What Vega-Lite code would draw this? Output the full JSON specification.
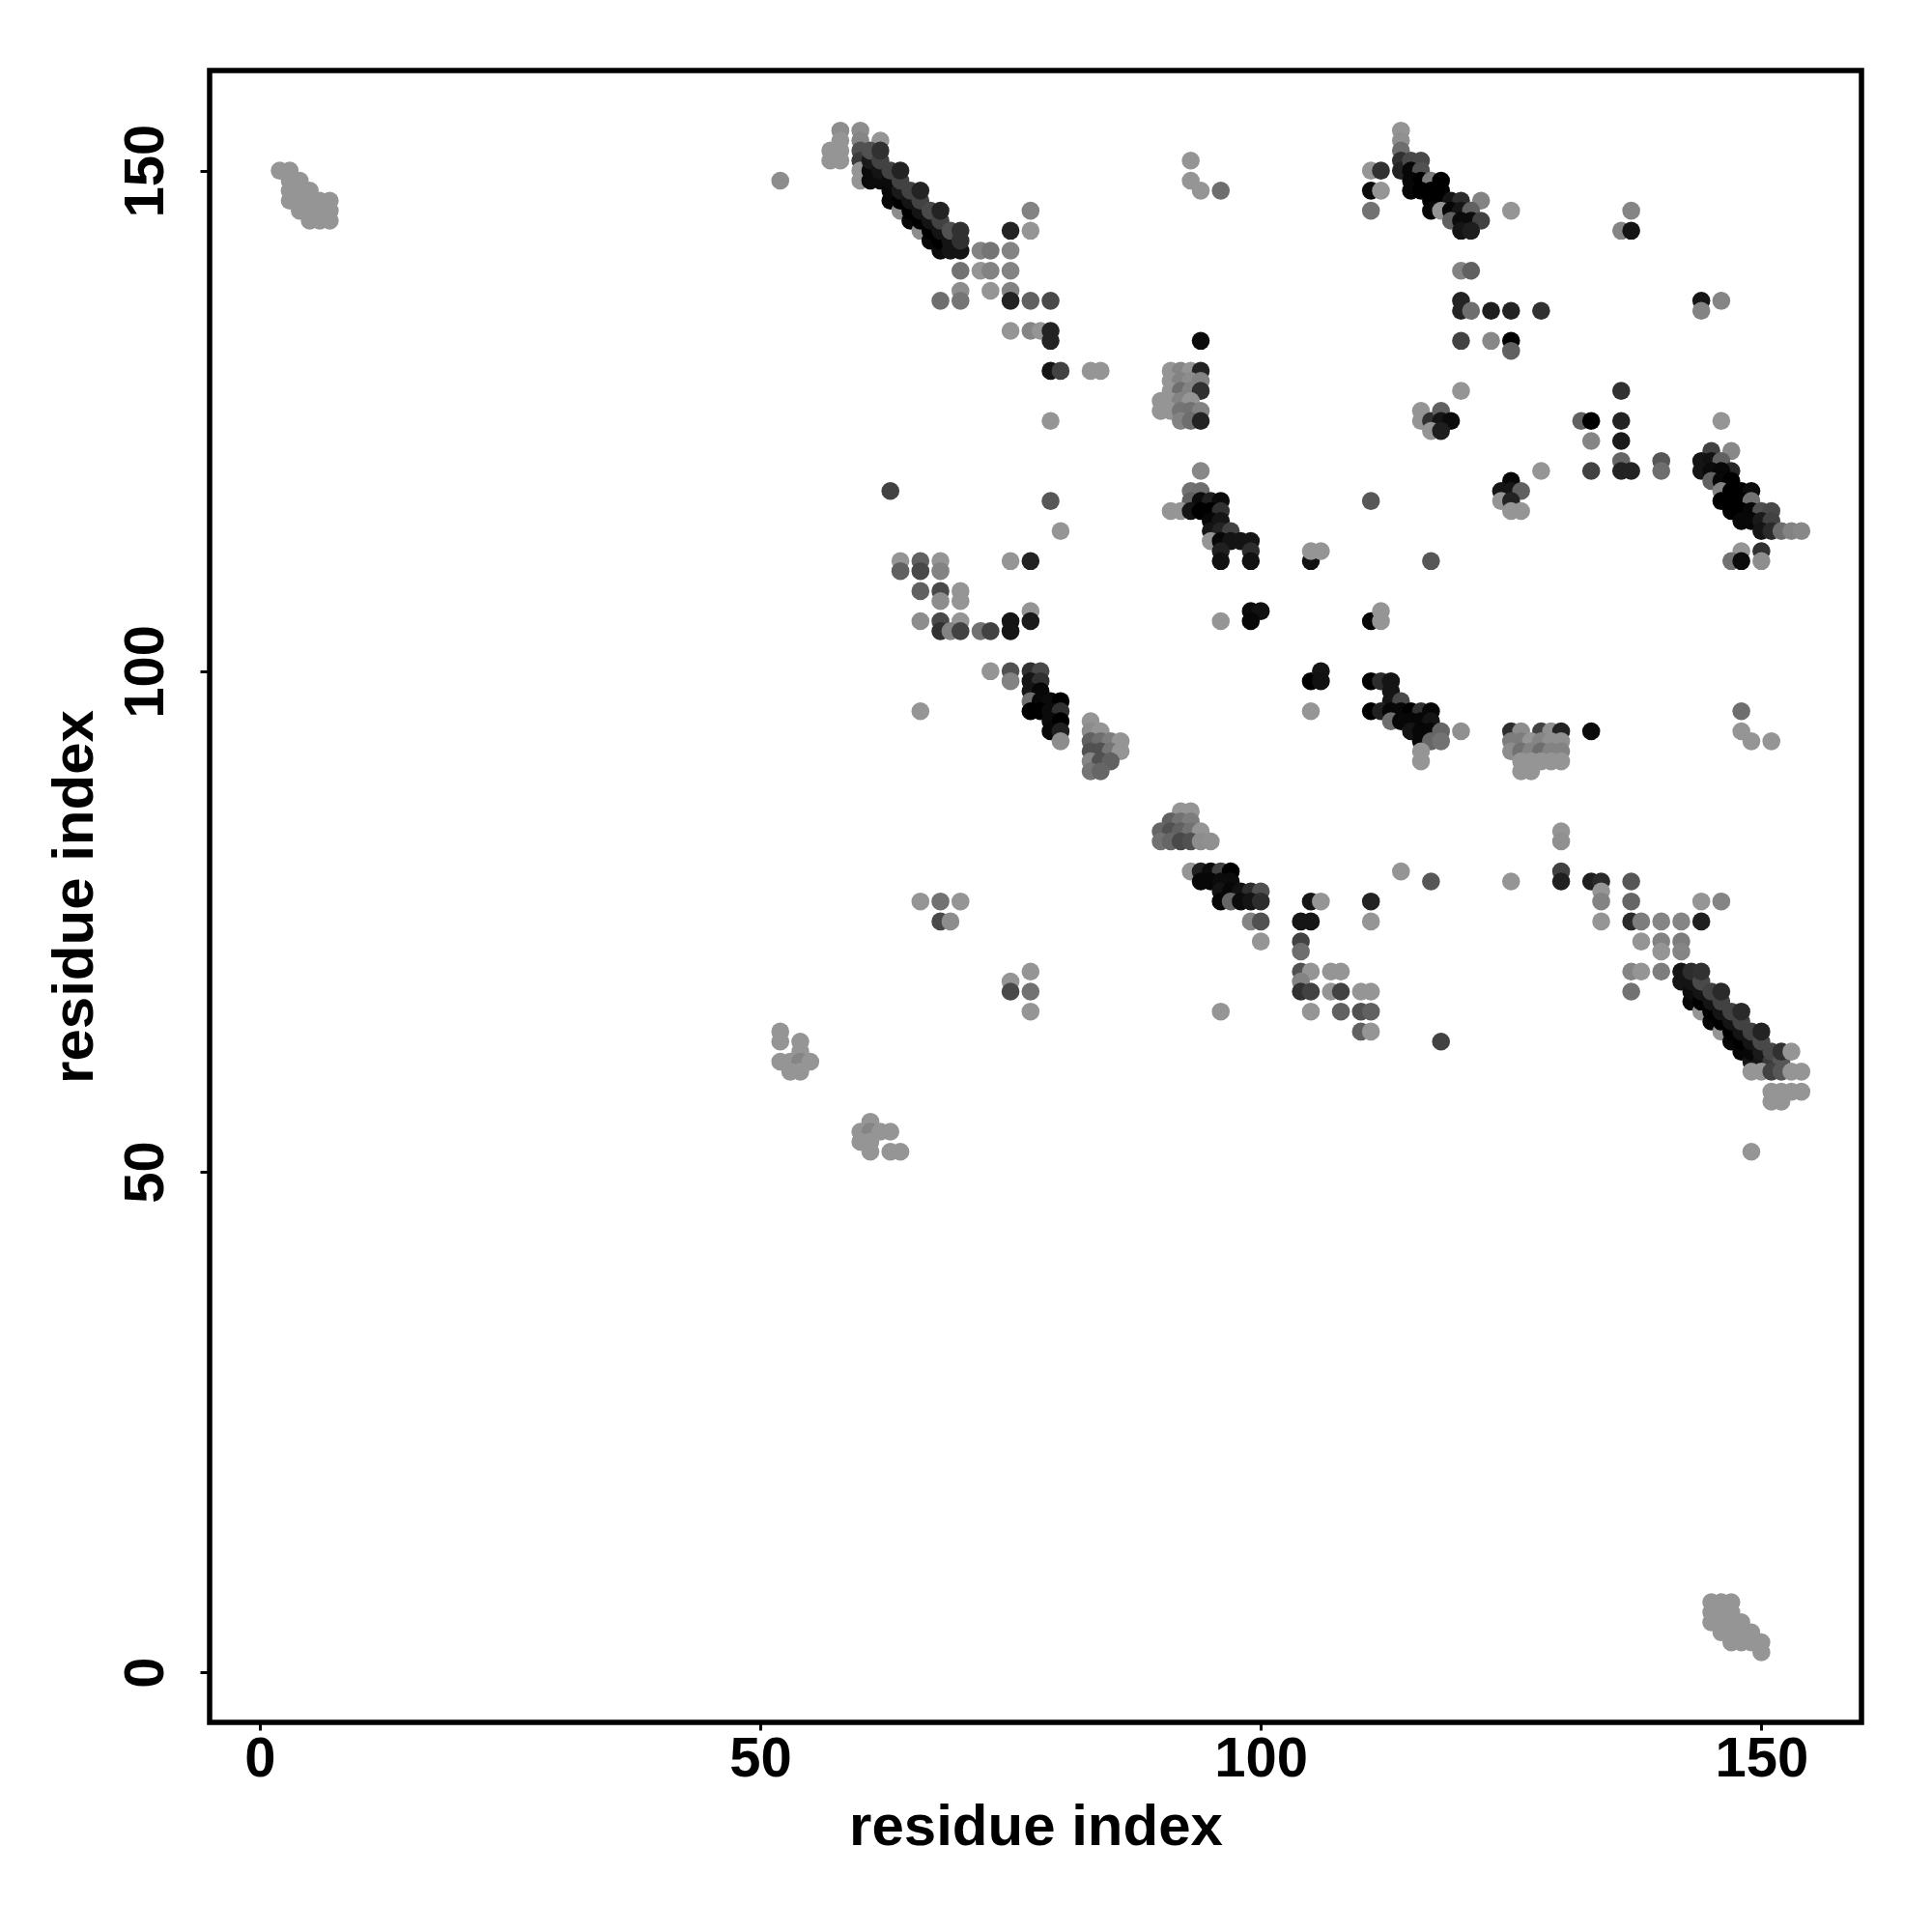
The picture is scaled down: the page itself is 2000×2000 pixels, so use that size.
{"$schema":"https://vega.github.io/schema/vega-lite/v6.json","width":1710,"height":1710,"autosize":{"type":"none"},"padding":{"left":217,"top":73,"right":73,"bottom":217},"background":"white","config":{"view":{"stroke":"#000000","strokeWidth":5.5,"fill":"white"}},"data":{"values":[
{"x":2,"y":150,"p":0},{"x":3,"y":150,"p":0},{"x":3,"y":149,"p":0},{"x":4,"y":149,"p":0},{"x":3,"y":148,"p":0},{"x":4,"y":148,"p":0},{"x":5,"y":148,"p":0},{"x":3,"y":147,"p":0},{"x":4,"y":147,"p":0},{"x":5,"y":147,"p":0},{"x":6,"y":147,"p":0},{"x":7,"y":147,"p":0},{"x":4,"y":146,"p":0},{"x":5,"y":146,"p":0},{"x":6,"y":146,"p":0},{"x":7,"y":146,"p":0},{"x":5,"y":145,"p":0},{"x":6,"y":145,"p":0},{"x":7,"y":145,"p":0},
{"x":145,"y":5,"p":0},{"x":145,"y":6,"p":0},{"x":145,"y":7,"p":0},{"x":146,"y":4,"p":0},{"x":146,"y":5,"p":0},{"x":146,"y":6,"p":0},{"x":146,"y":7,"p":0},{"x":147,"y":3,"p":0},{"x":147,"y":4,"p":0},{"x":147,"y":5,"p":0},{"x":147,"y":6,"p":0},{"x":147,"y":7,"p":0},{"x":148,"y":3,"p":0},{"x":148,"y":4,"p":0},{"x":148,"y":5,"p":0},{"x":149,"y":3,"p":0},{"x":149,"y":4,"p":0},{"x":150,"y":2,"p":0},{"x":150,"y":3,"p":0},
{"x":52,"y":149,"p":0.05},
{"x":58,"y":154,"p":0.05},{"x":60,"y":154,"p":0.05},{"x":62,"y":153,"p":0},{"x":57,"y":152,"p":0},{"x":57,"y":151,"p":0},{"x":58,"y":153,"p":0},{"x":58,"y":152,"p":0},{"x":58,"y":151,"p":0},{"x":60,"y":153,"p":0.1},{"x":60,"y":152,"p":0.44},{"x":60,"y":151,"p":0.6},{"x":60,"y":150,"p":0},{"x":60,"y":149,"p":0},
{"x":61,"y":149,"p":0.95},{"x":63,"y":147,"p":0.97},{"x":64,"y":146,"p":0.05},{"x":65,"y":145,"p":0.97},{"x":66,"y":144,"p":0.05},{"x":67,"y":143,"p":0.97},{"x":68,"y":142,"p":0.95},
{"x":61,"y":150,"p":0.95},{"x":62,"y":149,"p":0.95},{"x":63,"y":148,"p":0.97},{"x":64,"y":147,"p":1},{"x":65,"y":146,"p":1},{"x":66,"y":145,"p":1},{"x":67,"y":144,"p":1},{"x":68,"y":143,"p":1},{"x":69,"y":142,"p":0.9},
{"x":61,"y":151,"p":0.85},{"x":62,"y":150,"p":0.9},{"x":63,"y":149,"p":0.95},{"x":64,"y":148,"p":0.85},{"x":65,"y":147,"p":0.9},{"x":66,"y":146,"p":0.9},{"x":67,"y":145,"p":0.9},{"x":68,"y":144,"p":0.9},{"x":69,"y":143,"p":0.9},{"x":70,"y":142,"p":0.9},
{"x":61,"y":152,"p":0.44},{"x":62,"y":151,"p":0.55},{"x":63,"y":150,"p":0.55},{"x":64,"y":149,"p":0.55},{"x":65,"y":148,"p":0.55},{"x":66,"y":147,"p":0.55},{"x":67,"y":146,"p":0.5},{"x":68,"y":145,"p":0.55},{"x":69,"y":144,"p":0.44},{"x":70,"y":143,"p":0.67},
{"x":62,"y":152,"p":0.67},{"x":64,"y":150,"p":0.78},{"x":66,"y":148,"p":0.78},{"x":68,"y":146,"p":0.78},{"x":70,"y":144,"p":0.67},
{"x":77,"y":146,"p":0.11},{"x":75,"y":144,"p":0.78},{"x":77,"y":144,"p":0},{"x":72,"y":142,"p":0.11},{"x":73,"y":142,"p":0.2},{"x":75,"y":142,"p":0.11},{"x":70,"y":140,"p":0.22},{"x":72,"y":140,"p":0},{"x":73,"y":140,"p":0.11},{"x":75,"y":140,"p":0.11},{"x":70,"y":138,"p":0.05},{"x":73,"y":138,"p":0},{"x":75,"y":138,"p":0.11},{"x":70,"y":137,"p":0.2},{"x":68,"y":137,"p":0.25},{"x":75,"y":137,"p":0.78},{"x":77,"y":137,"p":0.33},{"x":79,"y":137,"p":0.5},
{"x":75,"y":134,"p":0},{"x":77,"y":134,"p":0.1},{"x":78,"y":134,"p":0},{"x":79,"y":134,"p":0.78},{"x":79,"y":133,"p":0.78},{"x":79,"y":130,"p":0.89},{"x":80,"y":130,"p":0.55},{"x":83,"y":130,"p":0},{"x":84,"y":130,"p":0},{"x":79,"y":125,"p":0},{"x":63,"y":118,"p":0.55},{"x":79,"y":117,"p":0.4},{"x":80,"y":114,"p":0},
{"x":93,"y":151,"p":0},{"x":93,"y":149,"p":0},{"x":94,"y":148,"p":0},{"x":96,"y":148,"p":0.25},{"x":94,"y":133,"p":0.95},
{"x":91,"y":130,"p":0},{"x":92,"y":130,"p":0.1},{"x":93,"y":130,"p":0},{"x":94,"y":130,"p":0.78},{"x":91,"y":129,"p":0},{"x":92,"y":129,"p":0.11},{"x":93,"y":129,"p":0.05},{"x":94,"y":129,"p":0.11},{"x":91,"y":128,"p":0},{"x":92,"y":128,"p":0.25},{"x":93,"y":128,"p":0.11},{"x":94,"y":128,"p":0.67},{"x":90,"y":127,"p":0},{"x":91,"y":127,"p":0},{"x":92,"y":127,"p":0.11},{"x":93,"y":127,"p":0},{"x":90,"y":126,"p":0},{"x":91,"y":126,"p":0},{"x":92,"y":126,"p":0.2},{"x":93,"y":126,"p":0.22},{"x":94,"y":126,"p":0.11},{"x":92,"y":125,"p":0.11},{"x":93,"y":125,"p":0.25},{"x":94,"y":125,"p":0.78},
{"x":94,"y":120,"p":0.08},{"x":93,"y":118,"p":0.22},{"x":94,"y":118,"p":0.25},{"x":93,"y":117,"p":0.33},{"x":94,"y":117,"p":0.95},{"x":95,"y":117,"p":0.8},{"x":96,"y":117,"p":0.95},{"x":91,"y":116,"p":0},{"x":92,"y":116,"p":0},{"x":93,"y":116,"p":0.9},{"x":94,"y":116,"p":1},{"x":95,"y":116,"p":1},{"x":96,"y":116,"p":0.67},{"x":95,"y":115,"p":0.97},{"x":96,"y":115,"p":0.89},{"x":95,"y":114,"p":0.89},{"x":96,"y":114,"p":0.78},{"x":97,"y":114,"p":0.55},{"x":95,"y":113,"p":0},{"x":96,"y":113,"p":0.97},{"x":97,"y":113,"p":0.9},{"x":98,"y":113,"p":0.9},{"x":99,"y":113,"p":0.9},{"x":96,"y":112,"p":0.8},{"x":99,"y":112,"p":0.7},{"x":96,"y":111,"p":0.92},{"x":99,"y":111,"p":0.92},
{"x":105,"y":111,"p":0.92},{"x":105,"y":112,"p":0},{"x":106,"y":112,"p":0},{"x":64,"y":111,"p":0},{"x":64,"y":110,"p":0.33},{"x":66,"y":111,"p":0.33},{"x":66,"y":110,"p":0.5},{"x":68,"y":111,"p":0},{"x":68,"y":110,"p":0.11},{"x":75,"y":111,"p":0},{"x":77,"y":111,"p":0.78},{"x":66,"y":108,"p":0.33},{"x":68,"y":108,"p":0.5},{"x":70,"y":108,"p":0},{"x":68,"y":107,"p":0.05},{"x":70,"y":107,"p":0},{"x":66,"y":105,"p":0.05},{"x":68,"y":105,"p":0.5},{"x":70,"y":105,"p":0},{"x":68,"y":104,"p":0.67},{"x":69,"y":104,"p":0.11},{"x":70,"y":104,"p":0.55},{"x":72,"y":104,"p":0.22},{"x":73,"y":104,"p":0.55},{"x":75,"y":105,"p":0.89},{"x":75,"y":104,"p":0.89},{"x":77,"y":106,"p":0},{"x":77,"y":105,"p":0.85},{"x":96,"y":105,"p":0},{"x":99,"y":106,"p":0.95},{"x":100,"y":106,"p":0.92},{"x":99,"y":105,"p":0.97},
{"x":73,"y":100,"p":0},{"x":75,"y":100,"p":0.44},{"x":75,"y":99,"p":0.11},{"x":77,"y":100,"p":0.67},{"x":78,"y":100,"p":0.5},{"x":77,"y":99,"p":0.89},{"x":78,"y":99,"p":0.67},{"x":77,"y":98,"p":0.89},{"x":78,"y":98,"p":0.97},{"x":77,"y":97,"p":0.25},{"x":78,"y":97,"p":0.97},{"x":79,"y":97,"p":0.95},{"x":80,"y":97,"p":1},{"x":77,"y":96,"p":1},{"x":78,"y":96,"p":1},{"x":79,"y":96,"p":0.95},{"x":80,"y":96,"p":0.67},{"x":79,"y":95,"p":0.95},{"x":80,"y":95,"p":1},{"x":79,"y":94,"p":0.97},{"x":80,"y":94,"p":0.8},{"x":80,"y":93,"p":0.05},{"x":66,"y":96,"p":0},
{"x":105,"y":99,"p":1},{"x":106,"y":100,"p":0.9},{"x":106,"y":99,"p":0.92},{"x":105,"y":96,"p":0},
{"x":83,"y":95,"p":0},{"x":83,"y":94,"p":0.05},{"x":84,"y":94,"p":0},{"x":83,"y":93,"p":0.33},{"x":84,"y":93,"p":0.25},{"x":85,"y":93,"p":0.15},{"x":86,"y":93,"p":0},{"x":83,"y":92,"p":0.44},{"x":84,"y":92,"p":0.44},{"x":85,"y":92,"p":0.2},{"x":86,"y":92,"p":0},{"x":83,"y":91,"p":0.1},{"x":84,"y":91,"p":0.44},{"x":85,"y":91,"p":0.33},{"x":83,"y":90,"p":0.2},{"x":84,"y":90,"p":0.3},
{"x":92,"y":86,"p":0},{"x":93,"y":86,"p":0},{"x":91,"y":85,"p":0.33},{"x":92,"y":85,"p":0.22},{"x":93,"y":85,"p":0.15},{"x":90,"y":84,"p":0.3},{"x":91,"y":84,"p":0.44},{"x":92,"y":84,"p":0.33},{"x":93,"y":84,"p":0.22},{"x":94,"y":84,"p":0},{"x":90,"y":83,"p":0.22},{"x":91,"y":83,"p":0.3},{"x":92,"y":83,"p":0.5},{"x":93,"y":83,"p":0.44},{"x":94,"y":83,"p":0.05},{"x":95,"y":83,"p":0.03},
{"x":93,"y":80,"p":0},{"x":94,"y":80,"p":0.8},{"x":95,"y":80,"p":0.95},{"x":96,"y":80,"p":0.55},{"x":97,"y":80,"p":1},{"x":94,"y":79,"p":0.97},{"x":95,"y":79,"p":0.97},{"x":96,"y":79,"p":0.95},{"x":97,"y":79,"p":0.95},{"x":96,"y":78,"p":0.9},{"x":97,"y":78,"p":0.97},{"x":98,"y":78,"p":0.92},{"x":99,"y":78,"p":0.7},{"x":100,"y":78,"p":0.44},{"x":96,"y":77,"p":0.97},{"x":97,"y":77,"p":0.3},{"x":98,"y":77,"p":0.95},{"x":99,"y":77,"p":0.9},{"x":100,"y":77,"p":0.7},{"x":99,"y":75,"p":0.1},{"x":100,"y":75,"p":0.44},{"x":100,"y":73,"p":0},
{"x":105,"y":77,"p":0.89},{"x":106,"y":77,"p":0},{"x":111,"y":77,"p":0.78},{"x":111,"y":75,"p":0},{"x":104,"y":75,"p":0.89},{"x":105,"y":75,"p":0.89},{"x":104,"y":73,"p":0.55},{"x":104,"y":72,"p":0.25},{"x":104,"y":70,"p":0.44},{"x":105,"y":70,"p":0},{"x":107,"y":70,"p":0},{"x":108,"y":70,"p":0},{"x":104,"y":69,"p":0.11},{"x":104,"y":68,"p":0.67},{"x":105,"y":68,"p":0.55},{"x":107,"y":68,"p":0},{"x":108,"y":68,"p":0.55},{"x":110,"y":68,"p":0},{"x":111,"y":68,"p":0},{"x":105,"y":66,"p":0},{"x":108,"y":66,"p":0.33},{"x":110,"y":66,"p":0.44},{"x":111,"y":66,"p":0.33},{"x":110,"y":64,"p":0.33},{"x":111,"y":64,"p":0},{"x":96,"y":66,"p":0},
{"x":75,"y":69,"p":0},{"x":75,"y":68,"p":0.5},{"x":77,"y":70,"p":0},{"x":77,"y":68,"p":0.22},{"x":77,"y":66,"p":0},{"x":66,"y":77,"p":0},{"x":68,"y":77,"p":0.22},{"x":70,"y":77,"p":0},{"x":68,"y":75,"p":0.5},{"x":69,"y":75,"p":0.05},
{"x":111,"y":99,"p":1},{"x":112,"y":99,"p":0.7},{"x":113,"y":99,"p":0.89},{"x":113,"y":98,"p":0.89},{"x":113,"y":97,"p":0.89},{"x":114,"y":97,"p":0.5},{"x":111,"y":96,"p":1},{"x":112,"y":96,"p":0.8},{"x":113,"y":96,"p":0.97},{"x":114,"y":96,"p":0.97},{"x":115,"y":96,"p":1},{"x":116,"y":96,"p":0.67},{"x":117,"y":96,"p":0.97},{"x":113,"y":95,"p":0.25},{"x":114,"y":95,"p":0.97},{"x":115,"y":95,"p":0.97},{"x":116,"y":95,"p":0.97},{"x":117,"y":95,"p":0.9},{"x":115,"y":94,"p":0.9},{"x":116,"y":94,"p":0.97},{"x":117,"y":94,"p":0.97},{"x":118,"y":94,"p":0.3},{"x":120,"y":94,"p":0.03},{"x":116,"y":93,"p":0.97},{"x":117,"y":93,"p":0.3},{"x":118,"y":93,"p":0.22},{"x":116,"y":92,"p":0},{"x":116,"y":91,"p":0},
{"x":125,"y":94,"p":0.7},{"x":126,"y":94,"p":0.05},{"x":128,"y":94,"p":0.55},{"x":129,"y":94,"p":0.03},{"x":130,"y":94,"p":0.78},{"x":133,"y":94,"p":0.95},{"x":125,"y":93,"p":0.15},{"x":126,"y":93,"p":0.15},{"x":127,"y":93,"p":0},{"x":128,"y":93,"p":0.1},{"x":129,"y":93,"p":0.03},{"x":130,"y":93,"p":0.03},{"x":125,"y":92,"p":0.05},{"x":126,"y":92,"p":0.22},{"x":127,"y":92,"p":0.11},{"x":128,"y":92,"p":0.25},{"x":129,"y":92,"p":0.11},{"x":130,"y":92,"p":0.11},{"x":126,"y":91,"p":0},{"x":127,"y":91,"p":0},{"x":128,"y":91,"p":0},{"x":129,"y":91,"p":0},{"x":130,"y":91,"p":0},{"x":126,"y":90,"p":0},{"x":127,"y":90,"p":0},
{"x":148,"y":96,"p":0.25},{"x":148,"y":94,"p":0},{"x":149,"y":93,"p":0},{"x":151,"y":93,"p":0},{"x":130,"y":84,"p":0},{"x":130,"y":83,"p":0.03},{"x":114,"y":80,"p":0},{"x":117,"y":79,"p":0.4},{"x":125,"y":79,"p":0},{"x":130,"y":80,"p":0.55},{"x":130,"y":79,"p":0.8},{"x":133,"y":79,"p":0.82},{"x":134,"y":79,"p":0.72},{"x":137,"y":79,"p":0.4},{"x":134,"y":78,"p":0},{"x":134,"y":77,"p":0.11},{"x":137,"y":77,"p":0.3},{"x":144,"y":77,"p":0},{"x":146,"y":77,"p":0.1},{"x":134,"y":75,"p":0},{"x":137,"y":75,"p":0.72},{"x":138,"y":75,"p":0.15},{"x":140,"y":75,"p":0.1},{"x":142,"y":75,"p":0.1},{"x":144,"y":75,"p":0.8},{"x":138,"y":73,"p":0},{"x":140,"y":73,"p":0.11},{"x":142,"y":73,"p":0.15},{"x":140,"y":72,"p":0},{"x":142,"y":72,"p":0.1},{"x":137,"y":70,"p":0.1},{"x":138,"y":70,"p":0},{"x":140,"y":70,"p":0.15},{"x":137,"y":68,"p":0.22},{"x":118,"y":63,"p":0.55},
{"x":143,"y":67,"p":0.97},{"x":144,"y":66,"p":0},{"x":145,"y":65,"p":0.97},{"x":146,"y":64,"p":0},{"x":147,"y":63,"p":0.97},{"x":148,"y":62,"p":0.97},{"x":149,"y":61,"p":0.89},
{"x":142,"y":69,"p":0.89},{"x":143,"y":68,"p":0.95},{"x":144,"y":67,"p":1},{"x":145,"y":66,"p":1},{"x":146,"y":65,"p":1},{"x":147,"y":64,"p":1},{"x":148,"y":63,"p":1},{"x":149,"y":62,"p":0.97},{"x":150,"y":61,"p":0.89},
{"x":142,"y":70,"p":0.89},{"x":143,"y":69,"p":0.9},{"x":144,"y":68,"p":0.9},{"x":145,"y":67,"p":0.9},{"x":146,"y":66,"p":0.9},{"x":147,"y":65,"p":0.9},{"x":148,"y":64,"p":0.9},{"x":149,"y":63,"p":0.9},{"x":150,"y":62,"p":0.85},{"x":151,"y":61,"p":0.6},
{"x":143,"y":70,"p":0.7},{"x":144,"y":69,"p":0.5},{"x":145,"y":68,"p":0.55},{"x":146,"y":67,"p":0.55},{"x":147,"y":66,"p":0.55},{"x":148,"y":65,"p":0.55},{"x":149,"y":64,"p":0.55},{"x":150,"y":63,"p":0.5},{"x":151,"y":62,"p":0.5},{"x":152,"y":61,"p":0.4},
{"x":144,"y":70,"p":0.67},{"x":146,"y":68,"p":0.72},{"x":148,"y":66,"p":0.72},{"x":150,"y":64,"p":0.78},{"x":152,"y":62,"p":0.67},{"x":153,"y":62,"p":0},
{"x":149,"y":60,"p":0},{"x":150,"y":60,"p":0},{"x":151,"y":60,"p":0.55},{"x":152,"y":60,"p":0.4},{"x":153,"y":60,"p":0},{"x":154,"y":60,"p":0},{"x":151,"y":58,"p":0},{"x":152,"y":58,"p":0},{"x":153,"y":58,"p":0},{"x":154,"y":58,"p":0},{"x":151,"y":57,"p":0},{"x":152,"y":57,"p":0},{"x":149,"y":52,"p":0},
{"x":145,"y":122,"p":0.55},{"x":147,"y":122,"p":0.08},{"x":146,"y":125,"p":0},{"x":144,"y":121,"p":0.89},{"x":145,"y":121,"p":0.92},{"x":146,"y":121,"p":0.33},{"x":147,"y":120,"p":0.75},{"x":144,"y":120,"p":0.89},{"x":145,"y":120,"p":0.95},{"x":146,"y":120,"p":0.97},{"x":145,"y":119,"p":0.33},{"x":146,"y":119,"p":0.97},{"x":147,"y":119,"p":1},{"x":146,"y":118,"p":0.11},{"x":147,"y":118,"p":1},{"x":148,"y":118,"p":1},{"x":149,"y":118,"p":0.95},{"x":146,"y":117,"p":1},{"x":147,"y":117,"p":1},{"x":148,"y":117,"p":1},{"x":149,"y":117,"p":0.22},{"x":147,"y":116,"p":1},{"x":148,"y":116,"p":1},{"x":149,"y":116,"p":0.97},{"x":150,"y":116,"p":0.44},{"x":151,"y":116,"p":0.5},{"x":148,"y":115,"p":0.97},{"x":149,"y":115,"p":0.97},{"x":150,"y":115,"p":0.85},{"x":151,"y":115,"p":0.55},{"x":150,"y":114,"p":0.89},{"x":151,"y":114,"p":0.72},{"x":152,"y":114,"p":0.25},{"x":153,"y":114,"p":0.11},{"x":154,"y":114,"p":0.08},{"x":148,"y":112,"p":0},{"x":150,"y":112,"p":0.67},{"x":147,"y":111,"p":0.22},{"x":148,"y":111,"p":0.95},{"x":150,"y":111,"p":0.05},
{"x":117,"y":111,"p":0.4},{"x":128,"y":120,"p":0},{"x":125,"y":119,"p":0.97},{"x":124,"y":118,"p":0.89},{"x":125,"y":118,"p":0.89},{"x":126,"y":118,"p":0.33},{"x":124,"y":117,"p":0},{"x":125,"y":117,"p":0.78},{"x":125,"y":116,"p":0},{"x":126,"y":116,"p":0},{"x":111,"y":117,"p":0.4},
{"x":116,"y":126,"p":0},{"x":116,"y":125,"p":0},{"x":117,"y":125,"p":0.67},{"x":118,"y":126,"p":0.33},{"x":118,"y":125,"p":0.89},{"x":119,"y":125,"p":0.95},{"x":117,"y":124,"p":0},{"x":118,"y":124,"p":0.82},{"x":120,"y":128,"p":0},
{"x":132,"y":125,"p":0.33},{"x":133,"y":125,"p":1},{"x":136,"y":125,"p":0.78},{"x":136,"y":128,"p":0.67},{"x":133,"y":123,"p":0.1},{"x":136,"y":123,"p":0.85},{"x":136,"y":121,"p":0.3},{"x":133,"y":120,"p":0.55},{"x":136,"y":120,"p":0.78},{"x":137,"y":120,"p":0.78},{"x":140,"y":121,"p":0.4},{"x":140,"y":120,"p":0.25},{"x":111,"y":105,"p":0.97},{"x":112,"y":106,"p":0},{"x":112,"y":105,"p":0},
{"x":114,"y":154,"p":0},{"x":114,"y":153,"p":0.03},{"x":114,"y":152,"p":0.25},{"x":114,"y":151,"p":0.67},{"x":114,"y":150,"p":0.78},{"x":115,"y":151,"p":0.5},{"x":116,"y":151,"p":0.5},{"x":111,"y":150,"p":0},{"x":112,"y":150,"p":0.67},{"x":111,"y":148,"p":0.95},{"x":112,"y":148,"p":0},{"x":111,"y":146,"p":0.22},{"x":115,"y":150,"p":0.97},{"x":116,"y":150,"p":0.44},{"x":115,"y":149,"p":0.97},{"x":116,"y":149,"p":1},{"x":117,"y":149,"p":0.15},{"x":118,"y":149,"p":1},{"x":115,"y":148,"p":0.97},{"x":116,"y":148,"p":1},{"x":117,"y":148,"p":1},{"x":118,"y":148,"p":1},{"x":117,"y":147,"p":1},{"x":118,"y":147,"p":1},{"x":119,"y":147,"p":0.89},{"x":120,"y":147,"p":0.7},{"x":122,"y":147,"p":0.11},{"x":117,"y":146,"p":0.97},{"x":118,"y":146,"p":0},{"x":119,"y":146,"p":0.97},{"x":120,"y":146,"p":0.89},{"x":121,"y":146,"p":0.33},{"x":125,"y":146,"p":0},{"x":137,"y":146,"p":0.1},{"x":119,"y":145,"p":0.33},{"x":120,"y":145,"p":0.95},{"x":121,"y":145,"p":0.95},{"x":122,"y":145,"p":0.55},{"x":120,"y":144,"p":0.89},{"x":121,"y":144,"p":0.82},{"x":136,"y":144,"p":0.1},{"x":137,"y":144,"p":0.9},
{"x":120,"y":140,"p":0.11},{"x":121,"y":140,"p":0.33},{"x":120,"y":137,"p":0.78},{"x":120,"y":136,"p":0.78},{"x":121,"y":136,"p":0.25},{"x":123,"y":136,"p":0.82},{"x":125,"y":136,"p":0.78},{"x":128,"y":136,"p":0.67},{"x":144,"y":137,"p":0.89},{"x":144,"y":136,"p":0.11},{"x":146,"y":137,"p":0.1},{"x":120,"y":133,"p":0.55},{"x":123,"y":133,"p":0.08},{"x":125,"y":133,"p":1},{"x":125,"y":132,"p":0.33},
{"x":52,"y":64,"p":0},{"x":52,"y":63,"p":0},{"x":54,"y":63,"p":0},{"x":54,"y":62,"p":0},{"x":52,"y":61,"p":0},{"x":53,"y":61,"p":0},{"x":54,"y":61,"p":0.1},{"x":55,"y":61,"p":0},{"x":53,"y":60,"p":0},{"x":54,"y":60,"p":0},
{"x":61,"y":55,"p":0},{"x":60,"y":54,"p":0},{"x":61,"y":54,"p":0.1},{"x":62,"y":54,"p":0},{"x":63,"y":54,"p":0},{"x":60,"y":53,"p":0},{"x":61,"y":53,"p":0},{"x":61,"y":52,"p":0},{"x":63,"y":52,"p":0},{"x":64,"y":52,"p":0}
]},"mark":{"type":"point","shape":"circle","filled":true,"opacity":1,"size":345},"encoding":{
"x":{"field":"x","type":"quantitative","scale":{"domain":[-5,160],"nice":false,"zero":false},"axis":{"values":[0,50,100,150],"grid":false,"domain":false,"title":"residue index","titleFont":"Liberation Sans","titleFontSize":60,"titleFontWeight":"bold","titleColor":"#000000","titlePadding":12.5,"labelFont":"Liberation Sans","labelFontSize":58,"labelFontWeight":"bold","labelColor":"#000000","labelPadding":1,"tickColor":"#000000","tickWidth":3,"tickSize":8,"labelFlush":false,"labelOverlap":false}},
"y":{"field":"y","type":"quantitative","scale":{"domain":[-5,160],"nice":false,"zero":false},"axis":{"values":[0,50,100,150],"grid":false,"domain":false,"title":"residue index","titleFont":"Liberation Sans","titleFontSize":60,"titleFontWeight":"bold","titleColor":"#000000","titlePadding":14,"labelFont":"Liberation Sans","labelFontSize":58,"labelFontWeight":"bold","labelColor":"#000000","labelAngle":-90,"labelAlign":"center","labelBaseline":"bottom","labelPadding":27,"tickColor":"#000000","tickWidth":3,"tickSize":10,"labelOverlap":false}},
"color":{"field":"p","type":"quantitative","scale":{"domain":[0,1],"range":["#959595","#000000"]},"legend":null},
"order":[{"field":"x","type":"quantitative"},{"field":"y","type":"quantitative"}]
}}
